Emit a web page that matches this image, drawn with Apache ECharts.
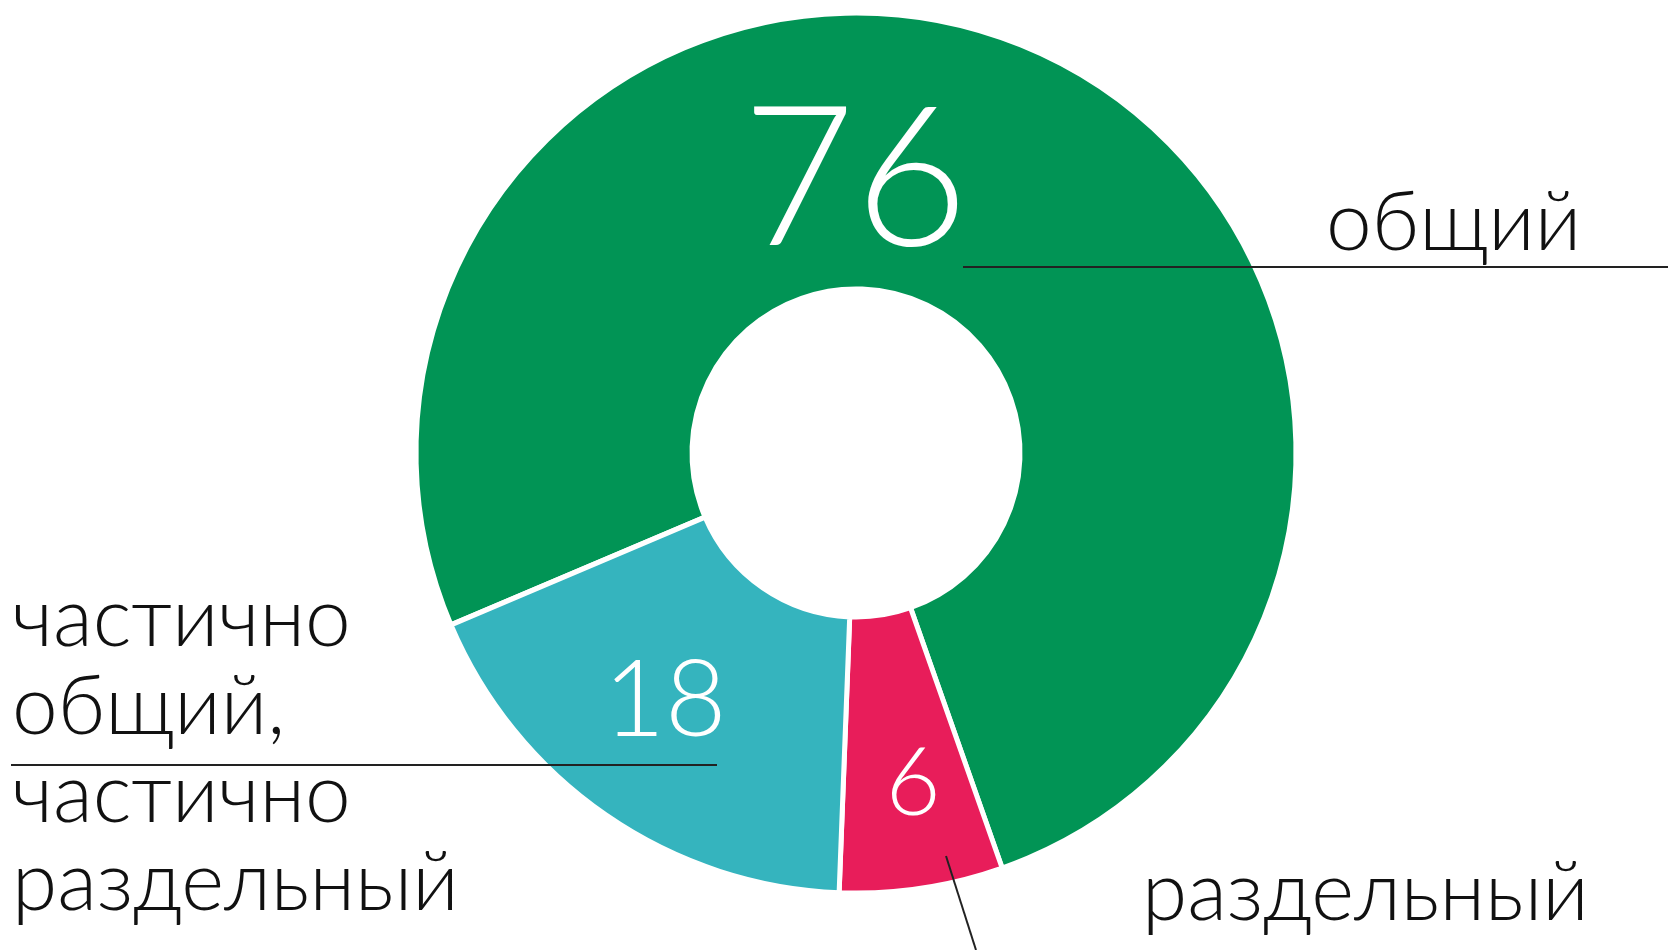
<!DOCTYPE html>
<html>
<head>
<meta charset="utf-8">
<style>
  html, body { margin: 0; padding: 0; background: #fff; }
  #chart { width: 1677px; height: 950px; }
</style>
<script src="https://cdn.jsdelivr.net/npm/echarts@6/dist/echarts.min.js"></script>
</head>
<body>
<div id="chart"></div>
<script>
// данные
const categories = ['общий', 'раздельный', 'частично общий, частично раздельный'];
const values = [76, 6, 18];
const labelTexts = ['общий', 'раздельный', 'частично\nобщий,\nчастично\nраздельный'];
const colors = ['#019455', '#E81D5A', '#35B4BE'];

// позиции подписей (подогнаны вручную)
const valueLabelSize = [195, 95, 106];
const valueLabelPos = [[855, 182], [913, 784], [665, 702]];
const nameLabelPos = [[1326, 224], [1142, 894], [12, 752]];
const leaderLines = [
  [[963, 267], [1300, 267], [1668, 267]],
  [[946, 856], [961, 903], [976, 950]],
  [[717, 765], [300, 765], [11, 765]]
];

const chart = echarts.init(document.getElementById('chart'));
const center = [856, 453];
const radius = [164, 440];
const font = 'Lato, "Open Sans", Roboto, sans-serif';

const option = {
  animation: false,
  series: [
    {
      type: 'pie',
      z: 2,
      center: center,
      radius: radius,
      startAngle: 203,
      clockwise: true,
      avoidLabelOverlap: false,
      emphasis: {disabled: true},
      itemStyle: {borderColor: '#fff', borderWidth: 5},
      label: {
        show: true,
        position: 'inside',
        formatter: '{c}',
        color: '#fff',
        fontFamily: font,
        fontWeight: 300
      },
      labelLine: {show: false},
      labelLayout: (p) => ({
        x: valueLabelPos[p.dataIndex][0],
        y: valueLabelPos[p.dataIndex][1],
        align: 'center',
        verticalAlign: 'middle'
      }),
      data: categories.map((c, i) => ({
        name: c,
        value: values[i],
        itemStyle: {color: colors[i]},
        label: {fontSize: valueLabelSize[i]}
      }))
    },
    {
      // прозрачный слой только для подписей и выносок
      type: 'pie',
      z: 5,
      center: center,
      radius: radius,
      startAngle: 203,
      clockwise: true,
      silent: true,
      avoidLabelOverlap: false,
      emphasis: {disabled: true},
      itemStyle: {color: 'rgba(0,0,0,0)', borderWidth: 0},
      label: {
        show: true,
        position: 'outside',
        formatter: (p) => labelTexts[p.dataIndex],
        color: '#111',
        fontSize: 82,
        lineHeight: 88,
        fontFamily: font,
        fontWeight: 300
      },
      labelLine: {show: true, lineStyle: {color: '#222', width: 2}},
      labelLayout: (p) => ({
        x: nameLabelPos[p.dataIndex][0],
        y: nameLabelPos[p.dataIndex][1],
        align: 'left',
        verticalAlign: 'middle',
        labelLinePoints: leaderLines[p.dataIndex]
      }),
      data: categories.map((c, i) => ({name: c, value: values[i]}))
    }
  ]
};

chart.setOption(option);
</script>
</body>
</html>
